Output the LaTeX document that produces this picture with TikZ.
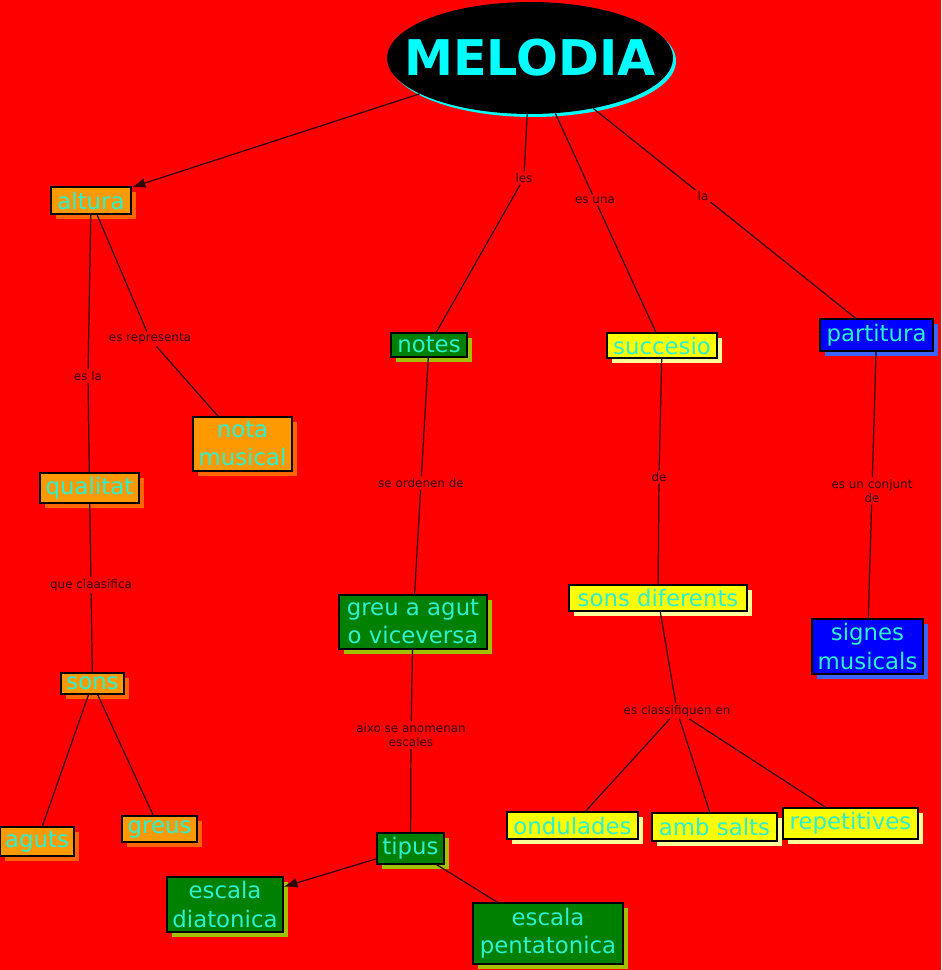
\documentclass[tikz,border=0pt]{standalone}
\usepackage{fontspec}
\setmainfont{DejaVu Sans}
\usetikzlibrary{shapes.geometric,shadows,arrows.meta}

\definecolor{fons}{RGB}{255,0,0}
\definecolor{taronja}{RGB}{255,153,0}
\definecolor{ombrataronja}{RGB}{255,102,0}
\definecolor{verd}{RGB}{0,128,0}
\definecolor{ombraverd}{RGB}{160,192,0}
\definecolor{groc}{RGB}{255,255,0}
\definecolor{ombragroc}{RGB}{255,255,153}
\definecolor{blau}{RGB}{0,0,255}
\definecolor{ombrablau}{RGB}{60,100,255}
\definecolor{turquesa}{RGB}{45,240,205}
\definecolor{ciano}{RGB}{0,255,255}
\definecolor{fosc}{RGB}{50,0,0}

\begin{document}
\begin{tikzpicture}[x=0.02cm,y=-0.02cm]
\tikzstyle{concepte}=[draw=black,line width=0.6pt,inner sep=1pt,text=turquesa,font=\fontsize{13}{16}\selectfont,align=center]
\tikzstyle{taronja}=[concepte,fill=taronja,drop shadow={shadow xshift=0.1cm,shadow yshift=-0.1cm,opacity=1,fill=ombrataronja}]
\tikzstyle{verd}=[concepte,fill=verd,drop shadow={shadow xshift=0.1cm,shadow yshift=-0.1cm,opacity=1,fill=ombraverd}]
\tikzstyle{groc}=[concepte,fill=groc,drop shadow={shadow xshift=0.1cm,shadow yshift=-0.1cm,opacity=1,fill=ombragroc}]
\tikzstyle{blau}=[concepte,fill=blau,drop shadow={shadow xshift=0.1cm,shadow yshift=-0.1cm,opacity=1,fill=ombrablau}]
\tikzstyle{enllac}=[inner sep=1pt,text=fosc,font=\fontsize{6.8}{8.2}\selectfont,align=center]
\tikzstyle{linia}=[line width=0.7pt,draw=fosc]
\tikzstyle{fletxa}=[linia,-{Latex[length=2.8mm,width=2mm]}]

	\fill[fons] (0,0) rectangle (941,970);
	\useasboundingbox (0,0) rectangle (941,970);

	\node (melodia) [ellipse,fill=black,minimum width=5.72cm,minimum height=2.24cm,inner sep=0pt,text=ciano,font=\fontsize{28}{30}\selectfont\bfseries,drop shadow={shadow xshift=0.06cm,shadow yshift=-0.06cm,opacity=1,fill=ciano}] at (530,58) {\makebox[0pt]{MELODIA}};

	% branca esquerra
	\node (altura) [taronja,minimum width=1.6cm,minimum height=0.54cm] at (91,200.5) {altura};
	\node (notamusical) [taronja,minimum width=1.98cm,minimum height=1.08cm] at (242.5,444) {nota\\musical};
	\node (qualitat) [taronja,minimum width=1.98cm,minimum height=0.6cm] at (89.5,488) {qualitat};
	\node (sons) [taronja,minimum width=1.26cm,minimum height=0.42cm] at (92.5,683.5) {sons};
	\node (aguts) [taronja,minimum width=1.48cm,minimum height=0.58cm] at (37,841.5) {aguts};
	\node (greus) [taronja,minimum width=1.5cm,minimum height=0.52cm] at (159.5,829) {greus};

	% notes
	\node (notes) [verd,minimum width=1.52cm,minimum height=0.48cm] at (429,345) {notes};
	\node (greuagut) [verd,minimum width=2.96cm,minimum height=1.08cm] at (413,622) {greu a agut\\o viceversa};
	\node (tipus) [verd,minimum width=1.34cm,minimum height=0.62cm] at (410.5,848.5) {tipus};
	\node (diatonica) [verd,minimum width=2.32cm,minimum height=1.1cm] at (225,904.5) {escala\\diatonica};
	\node (pentatonica) [verd,minimum width=3cm,minimum height=1.22cm] at (548,933.5) {escala\\pentatonica};

	% succesio
	\node (succesio) [groc,minimum width=2.2cm,minimum height=0.5cm] at (662,345.5) {succesio};
	\node (sonsdiferents) [groc,minimum width=3.56cm,minimum height=0.52cm] at (658,598) {sons diferents};
	\node (ondulades) [groc,minimum width=2.62cm,minimum height=0.54cm] at (572.5,825.5) {ondulades};
	\node (ambsalts) [groc,minimum width=2.5cm,minimum height=0.56cm] at (714.5,827) {amb salts};
	\node (repetitives) [groc,minimum width=2.7cm,minimum height=0.62cm] at (850.5,823.5) {repetitives};

	% partitura
	\node (partitura) [blau,minimum width=2.26cm,minimum height=0.64cm] at (876.5,335) {partitura};
	\node (signes) [blau,minimum width=2.22cm,minimum height=1.1cm] at (867.5,646.5) {signes\\musicals};

	% enllacos
	\node (les) [enllac] at (524,178) {les};
	\node (esuna) [enllac] at (595,200) {es una};
	\node (la) [enllac] at (703,196) {la};
	\node (esrepresenta) [enllac] at (150,339) {es representa};
	\node (esla) [enllac] at (88,376) {es la};
	\node (queclaasifica) [enllac] at (91,585) {que claasifica};
	\node (seordenen) [enllac] at (421,483) {se ordenen de};
	\node (aixo) [enllac] at (411,735) {aixo se anomenan\\escales};
	\node (de) [enllac] at (659,477) {de};
	\node (esclassifiquen) [enllac] at (677,711) {es classifiquen en};
	\node (esunconjunt) [enllac] at (872,491) {es un conjunt\\de};

	\draw [fletxa] (melodia) -- (altura);
	\draw [linia] (melodia) -- (les) -- (notes);
	\draw [linia] (melodia) -- (esuna) -- (succesio);
	\draw [linia] (melodia) -- (la) -- (partitura);

	\draw [linia] (altura) -- (esla) -- (qualitat);
	\draw [linia] (altura) -- (esrepresenta) -- (notamusical);
	\draw [linia] (qualitat) -- (queclaasifica) -- (sons);
	\draw [linia] (sons) -- (aguts);
	\draw [linia] (sons) -- (greus);

	\draw [linia] (notes) -- (seordenen) -- (greuagut);
	\draw [linia] (greuagut) -- (aixo) -- (tipus);
	\draw [fletxa] (tipus) -- (diatonica);
	\draw [linia] (tipus) -- (pentatonica);

	\draw [linia] (succesio) -- (de) -- (sonsdiferents);
	\draw [linia] (sonsdiferents) -- (esclassifiquen);
	\draw [linia] (esclassifiquen) -- (ondulades);
	\draw [linia] (esclassifiquen) -- (ambsalts);
	\draw [linia] (esclassifiquen) -- (repetitives);

	\draw [linia] (partitura) -- (esunconjunt) -- (signes);

\end{tikzpicture}
\end{document}
